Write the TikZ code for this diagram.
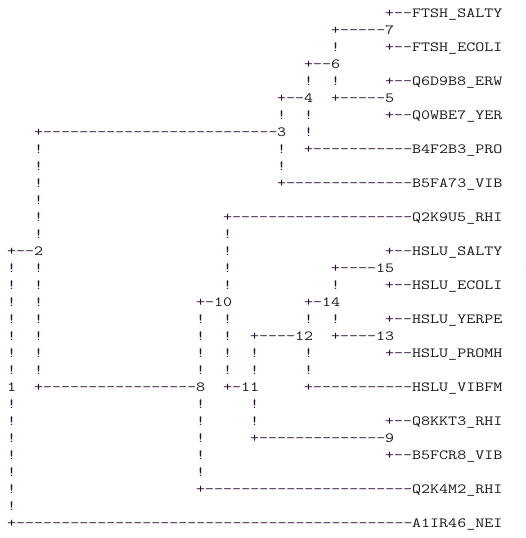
\documentclass[tikz,border=0pt]{standalone}
\usepackage{fontspec}
\setmonofont{Latin Modern Mono}[FakeStretch=1.25]
\definecolor{treeink}{RGB}{50,12,60}
\definecolor{labink}{RGB}{25,25,25}
\newcommand\dashrun[1]{\foreach \i in {1,...,#1}{-}}
\begin{document}
\begin{tikzpicture}[x=9pt,y=-17pt,
  cell/.style={anchor=base west,inner sep=0pt,outer sep=0pt,font=\ttfamily\fontsize{14}{17}\selectfont},
  tree/.style={cell,text=treeink},
  lab/.style={cell,text=labink}]
  \useasboundingbox (-0.8,-1.0294) rectangle (57.644,30.618);
  % branches: row/column/number of dashes
  \foreach \r/\c/\n in {0/42/2,1/36/5,2/42/2,3/33/2,4/42/2,5/30/2,5/36/5,6/42/2,7/3/26,8/33/11,10/30/14,12/24/20,14/0/2,14/42/2,15/36/4,16/42/2,17/21/1,17/33/1,18/42/2,19/27/4,19/36/4,20/42/2,22/3/17,22/24/1,22/33/11,24/42/2,25/27/14,26/42/2,28/21/23,30/0/44}
    \node[tree] (b-\r-\c) at (\c,\r) {+\dashrun{\n}};
  % vertical runs: column/first row/last row
  \foreach \c/\a/\b in {0/15/21,0/23/29,3/8/13,3/15/21,21/18/21,21/23/27,24/13/16,24/18/21,27/20/21,27/23/24,30/6/6,30/8/9,33/4/4,33/6/7,33/18/18,33/20/21,36/2/2,36/4/4,36/16/16,36/18/18}
    {
      \foreach \r in {\a,...,\b}
        \node[tree] (v-\r-\c) at (\c,\r) {!};
    }
  % internal nodes and leaves
  \foreach \r/\c/\t in {0/45/FTSH\_SALTY,1/42/7,2/45/FTSH\_ECOLI,3/36/6,4/45/Q6D9B8\_ERW,5/33/4,5/42/5,6/45/Q0WBE7\_YER,7/30/3,8/45/B4F2B3\_PRO,10/45/B5FA73\_VIB,12/45/Q2K9U5\_RHI,14/3/2,14/45/HSLU\_SALTY,15/41/15,16/45/HSLU\_ECOLI,17/23/10,17/35/14,18/45/HSLU\_YERPE,19/32/12,19/41/13,20/45/HSLU\_PROMH,22/0/1,22/21/8,22/26/11,22/45/HSLU\_VIBFM,24/45/Q8KKT3\_RHI,25/42/9,26/45/B5FCR8\_VIB,28/45/Q2K4M2\_RHI,30/45/A1IR46\_NEI}
    \node[lab] (l-\r-\c) at (\c,\r) {\t};
  \fill[gray!70] (57.53,14.79) circle (0.6pt);
\end{tikzpicture}
\end{document}
